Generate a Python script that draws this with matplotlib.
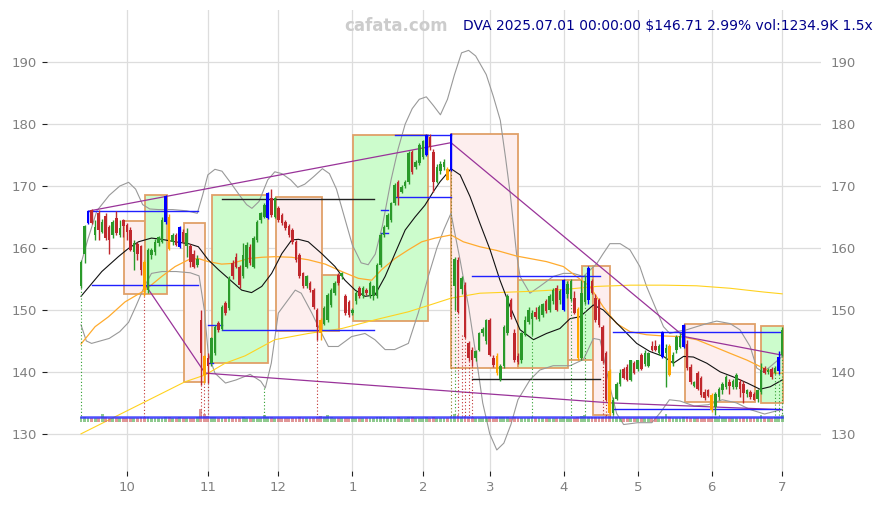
import numpy as np
import matplotlib.pyplot as plt
from matplotlib.patches import Rectangle

# daily candles, index 0 = 2024-09-12 (trading days)
opens = [
    153.8, 159.1, 164.0, 166.1, 162.1, 165.6, 162.6, 165.2, 163.4, 162.1,
    164.8, 162.1, 164.5, 163.7, 162.9, 159.4, 160.6, 160.3, 157.8, 153.2,
    158.9, 159.4, 160.8, 161.0, 164.2, 165.0, 161.0, 162.1, 160.2, 162.6,
    160.4, 160.4, 159.1, 157.3, 148.4, 142.5, 142.2, 141.4, 143.0, 147.9,
    147.0, 151.1, 150.3, 157.5, 158.6, 157.0, 155.4, 157.0, 160.2, 157.0,
    161.3, 164.5, 165.0, 164.8, 168.0, 165.0, 166.4, 165.3, 164.2, 163.5,
    162.9, 161.0, 158.9, 155.9, 153.8, 154.3, 153.2, 150.0, 148.4, 147.8,
    148.4, 150.8, 152.7, 155.6, 155.4, 152.2, 151.3, 149.5, 151.4, 153.5,
    152.2, 153.2, 152.2, 152.2, 152.2, 157.3, 162.1, 163.4, 164.5, 167.2,
    170.7, 169.1, 170.0, 170.7, 175.5, 173.1, 173.7, 174.7, 175.0, 177.9,
    175.5, 170.7, 172.5, 173.0, 172.8, 172.6, 153.8, 158.1, 153.4, 154.0,
    144.6, 143.5, 142.2, 143.5, 146.2, 145.0, 148.4, 142.2, 142.5, 138.9,
    140.9, 146.2, 151.6, 146.2, 142.5, 141.9, 146.0, 148.0, 148.5, 149.6,
    148.6, 149.2, 151.4, 150.0, 151.5, 153.6, 151.6, 150.0, 152.5, 151.8,
    152.0, 150.2, 142.2, 151.3, 151.6, 154.6, 152.0, 151.6, 147.3, 143.0,
    140.2, 133.3, 135.6, 138.0, 140.4, 140.8, 138.7, 141.4, 140.5, 142.7,
    141.3, 141.0, 144.1, 144.1, 143.0, 142.4, 143.0, 144.1, 141.4, 143.5,
    144.0, 144.0, 144.5, 140.8, 137.8, 139.9, 139.0, 136.8, 137.0, 136.2,
    134.4, 136.0, 137.0, 137.6, 138.4, 137.5, 137.6, 138.4, 138.0, 136.4,
    136.8, 136.5, 135.6, 136.8, 140.6, 140.0, 140.4, 139.9, 140.1, 142.7,
]
highs = [
    158.1, 163.7, 166.1, 166.3, 164.5, 166.1, 164.6, 165.6, 163.7, 164.5,
    165.9, 164.5, 164.6, 164.0, 163.4, 161.3, 160.9, 160.5, 158.1, 160.0,
    160.0, 161.5, 162.0, 165.0, 168.5, 165.5, 162.4, 162.5, 163.6, 163.0,
    163.2, 160.6, 159.6, 158.8, 150.0, 142.8, 143.0, 145.7, 147.6, 148.2,
    150.8, 151.5, 155.4, 158.0, 159.2, 157.3, 160.8, 161.0, 160.6, 162.0,
    164.5, 165.8, 167.2, 169.0, 169.6, 168.3, 166.7, 165.6, 164.5, 163.8,
    163.2, 161.3, 159.2, 156.2, 155.7, 154.6, 153.5, 150.3, 148.7, 150.6,
    152.7, 153.5, 154.6, 155.9, 156.2, 152.5, 151.6, 150.3, 153.0, 153.8,
    153.8, 153.5, 154.6, 154.1, 157.6, 162.4, 163.7, 165.6, 167.5, 170.5,
    171.0, 170.2, 171.0, 175.6, 175.8, 174.2, 176.9, 177.5, 178.4, 178.4,
    176.0, 173.5, 174.0, 174.3, 173.0, 178.6, 158.6, 158.5, 155.5, 154.5,
    145.0, 144.0, 143.6, 146.5, 147.3, 148.6, 148.7, 142.8, 143.0, 141.2,
    147.6, 152.6, 152.0, 147.0, 143.0, 146.5, 149.0, 150.5, 150.0, 150.5,
    150.8, 151.2, 151.8, 152.6, 153.5, 154.0, 153.4, 155.0, 154.6, 155.0,
    153.0, 150.5, 154.8, 155.6, 157.1, 155.0, 152.5, 152.0, 147.6, 143.3,
    140.5, 136.0, 138.3, 140.5, 140.8, 141.2, 142.0, 141.8, 142.0, 143.0,
    143.5, 143.2, 145.0, 145.2, 144.5, 146.6, 144.5, 144.5, 143.2, 146.0,
    146.2, 147.7, 145.2, 141.2, 138.6, 140.2, 139.3, 137.2, 137.3, 136.6,
    136.7, 137.6, 138.3, 139.5, 138.8, 138.8, 139.8, 138.8, 138.5, 137.2,
    137.0, 136.7, 137.3, 141.5, 141.0, 140.6, 140.8, 141.0, 143.3, 147.2,
]
lows = [
    153.6, 157.5, 163.8, 163.8, 161.3, 161.3, 162.4, 161.3, 159.1, 161.6,
    162.1, 161.8, 161.8, 161.3, 159.5, 156.5, 158.0, 155.6, 152.3, 152.8,
    158.3, 158.8, 160.3, 160.8, 163.9, 159.6, 160.5, 160.3, 160.0, 160.8,
    158.5, 156.9, 156.8, 157.0, 137.9, 138.2, 138.2, 141.0, 142.8, 146.5,
    146.8, 149.2, 150.0, 155.0, 156.7, 153.6, 155.1, 156.8, 157.2, 156.8,
    161.0, 164.0, 164.8, 164.6, 165.0, 164.8, 164.2, 163.7, 162.9, 161.8,
    160.7, 157.8, 155.1, 153.5, 153.5, 152.9, 150.2, 145.2, 145.2, 147.5,
    148.0, 150.5, 152.4, 154.0, 155.0, 149.2, 148.9, 149.2, 151.0, 151.9,
    151.9, 152.4, 151.9, 151.6, 151.9, 157.0, 161.8, 163.1, 164.2, 166.9,
    166.9, 168.8, 169.7, 170.4, 172.0, 172.8, 173.4, 174.4, 174.8, 175.8,
    169.1, 170.5, 172.0, 172.6, 170.9, 172.4, 150.0, 149.5, 152.5, 145.5,
    141.8, 141.0, 141.8, 143.3, 145.8, 144.5, 142.5, 140.8, 139.5, 138.6,
    140.6, 146.0, 148.5, 141.6, 141.2, 141.5, 145.8, 147.8, 146.0, 148.5,
    148.2, 148.8, 149.5, 149.6, 151.0, 149.8, 151.0, 149.8, 152.0, 151.5,
    149.3, 142.0, 142.0, 151.0, 151.0, 152.5, 148.0, 147.3, 141.5, 135.3,
    133.0, 133.0, 135.4, 137.8, 138.8, 138.5, 138.5, 139.6, 140.2, 140.3,
    141.0, 140.8, 143.3, 143.4, 142.8, 142.2, 137.5, 139.3, 141.0, 143.0,
    143.8, 143.8, 140.3, 138.0, 137.5, 137.0, 135.9, 135.5, 135.9, 133.5,
    133.0, 135.5, 136.5, 137.3, 136.5, 137.2, 137.3, 136.0, 135.0, 136.0,
    135.6, 135.4, 135.2, 136.5, 139.6, 139.6, 138.8, 139.6, 139.6, 142.5,
]
closes = [
    157.8, 163.5, 166.0, 164.0, 163.4, 162.9, 164.2, 161.6, 161.3, 164.2,
    162.4, 163.3, 163.5, 162.6, 159.7, 160.8, 159.0, 156.5, 153.2, 159.7,
    159.7, 161.0, 161.8, 164.5, 168.4, 159.9, 162.1, 160.5, 163.4, 161.0,
    162.4, 157.8, 157.0, 158.3, 143.0, 139.5, 140.9, 145.4, 147.3, 146.8,
    150.5, 149.5, 155.1, 155.4, 157.0, 154.0, 158.9, 160.5, 157.5, 161.6,
    164.2, 165.6, 166.9, 168.8, 165.3, 168.0, 164.5, 164.0, 163.2, 162.1,
    161.0, 158.1, 155.4, 153.8, 155.4, 153.2, 150.5, 147.3, 146.2, 150.3,
    152.4, 153.2, 154.3, 154.3, 155.9, 149.5, 149.2, 150.0, 152.7, 152.2,
    153.5, 152.7, 154.3, 153.8, 157.3, 162.1, 163.4, 165.3, 167.2, 170.2,
    168.3, 169.9, 170.7, 175.3, 172.3, 173.9, 176.6, 177.2, 178.2, 176.3,
    170.7, 173.0, 173.5, 173.9, 171.0, 178.4, 158.3, 149.7, 155.1, 145.7,
    142.2, 141.9, 143.3, 146.2, 147.0, 148.4, 142.7, 141.1, 139.8, 140.9,
    147.3, 152.2, 148.8, 141.9, 141.6, 146.2, 148.4, 150.0, 149.5, 148.8,
    150.5, 150.9, 149.9, 152.3, 153.2, 150.0, 153.0, 154.8, 154.2, 154.6,
    149.5, 142.2, 152.7, 154.6, 156.8, 152.8, 148.4, 147.6, 141.8, 135.5,
    133.3, 135.4, 138.0, 139.8, 139.0, 138.7, 141.9, 139.8, 141.9, 140.5,
    143.0, 143.0, 143.5, 143.6, 144.1, 146.4, 143.8, 139.5, 142.8, 145.6,
    145.8, 147.5, 140.6, 138.4, 138.3, 137.3, 136.2, 135.8, 136.1, 133.9,
    136.5, 137.3, 138.1, 139.2, 137.8, 138.5, 139.5, 137.2, 136.6, 137.0,
    136.0, 135.5, 137.0, 140.3, 139.8, 140.3, 139.2, 140.6, 142.4, 146.7,
]
volumes = [
    900, 820, 760, 700, 720, 760, 1500, 800, 760, 720,
    700, 760, 740, 700, 720, 760, 780, 800, 900, 820,
    760, 700, 720, 700, 800, 900, 760, 700, 800, 720,
    700, 760, 780, 800, 2300, 1500, 1100, 900, 820, 760,
    760, 700, 800, 760, 720, 760, 800, 720, 700, 760,
    720, 740, 1200, 900, 820, 760, 720, 700, 700, 720,
    740, 760, 800, 780, 720, 700, 760, 900, 1000, 880,
    1300, 820, 760, 700, 700, 760, 780, 720, 720, 700,
    700, 720, 700, 720, 820, 900, 800, 760, 720, 760,
    800, 720, 700, 860, 800, 720, 760, 780, 820, 760,
    820, 720, 700, 700, 720, 1100, 1400, 1200, 900, 1000,
    900, 820, 760, 760, 720, 760, 800, 760, 900, 800,
    820, 860, 760, 800, 760, 760, 720, 720, 800, 720,
    700, 720, 700, 720, 720, 760, 700, 800, 720, 760,
    760, 900, 1000, 1300, 900, 800, 820, 800, 900, 1000,
    1100, 900, 820, 760, 720, 720, 760, 720, 700, 700,
    720, 700, 720, 700, 720, 860, 1400, 800, 760, 720,
    720, 860, 800, 760, 720, 720, 760, 720, 700, 900,
    800, 760, 720, 700, 720, 700, 700, 760, 760, 720,
    720, 700, 720, 1300, 760, 720, 720, 800, 900, 1235,
]
blue_idx = [2, 24, 28, 53, 98, 105, 137, 144, 165, 171, 198]
orange_idx = [18, 25, 35, 68, 104, 118, 141, 150, 167, 179]

# month ticks
month_idx = [13, 36, 56, 77, 97, 116, 137, 158, 179, 199]
month_lbl = ['10', '11', '12', '1', '2', '3', '4', '5', '6', '7']

# indicator lines: (index, price)
ma_black = [(0, 152.2), (5.9, 156.2), (10.6, 158.6), (13.4, 159.9), (16.3, 161.0), (20, 161.6),
            (22.9, 161.4), (26.7, 161.0), (30.5, 160.7), (33.3, 160.2), (36.1, 158.1), (39, 156.5),
            (42.8, 154.6), (45.6, 153.2), (48.4, 152.8), (51.3, 153.8), (54.1, 155.9), (57, 159.1),
            (59.8, 161.3), (61.7, 161.4), (64.5, 161.0), (68.3, 159.1), (72.1, 157.0), (74.9, 154.8),
            (77.8, 153.2), (80.6, 152.2), (83.4, 152.4), (86.3, 155.4), (89.1, 159.1), (92, 162.9),
            (94.8, 165.0), (97.6, 166.9), (100, 169.1), (101.9, 170.7), (105, 172.8), (107.6, 171.8),
            (110.4, 168.3), (113.2, 164.0), (116.1, 159.7), (118.9, 154.8), (121.8, 150.5),
            (124.6, 146.8), (128.4, 145.2), (132.1, 146.2), (135.9, 147.0), (138.8, 148.6),
            (141.6, 148.9), (145.4, 150.8), (148.2, 150.0), (151.1, 148.4), (153.9, 146.8),
            (157.7, 144.6), (161.4, 143.3), (165.3, 142.5), (168.1, 141.4), (171, 142.5),
            (173.8, 142.4), (177.6, 141.4), (181.4, 140.0), (185.1, 139.2), (189.1, 138.2),
            (192.7, 137.2), (195.6, 137.6), (199, 138.7)]
band_up = [(0, 157.5), (2, 161.5), (4.5, 166.0), (8, 168.5), (11, 170.0), (13.5, 170.6), (15.5, 169.5),
           (17.5, 167.0), (19.5, 166.3), (22, 166.2), (26, 166.2), (30, 166.0), (33, 165.6),
           (34.5, 168.5), (36, 171.8), (38, 172.7), (40, 172.4), (42.5, 170.5), (45, 168.5),
           (47, 167.0), (48.5, 166.4), (50.5, 167.5), (53, 171.0), (55, 172.3), (57, 172.0),
           (59.5, 171.0), (61.5, 169.8), (63.5, 170.3), (66, 171.5), (68.5, 172.8), (70.5, 172.0),
           (72.5, 169.5), (75, 164.5), (77, 160.5), (79.5, 157.6), (81.5, 157.3), (83.5, 159.0),
           (85.5, 163.5), (88, 171.0), (90, 176.0), (92, 180.0), (94, 182.5), (96, 184.0),
           (98, 184.4), (100, 183.0), (102, 181.5), (104, 184.0), (106, 188.0), (108, 191.5),
           (110, 191.9), (112, 191.0), (115, 188.0), (117, 184.5), (119, 180.6), (120.5, 174.5),
           (121.8, 168.8), (123.6, 159.1), (124.6, 155.4), (127.4, 152.7), (130.2, 153.8),
           (134, 155.4), (136.9, 155.9), (139.7, 155.9), (142.6, 155.4), (146.4, 157.5),
           (148.2, 159.1), (150.1, 160.7), (153, 160.7), (155.8, 159.7), (158.6, 157.0),
           (160.5, 153.8), (163.3, 150.0), (165.3, 147.3), (167.1, 146.2), (169, 146.5),
           (171.9, 146.8), (174.7, 147.3), (177.6, 147.8), (180.4, 148.2), (184.2, 147.8),
           (187, 146.8), (189.9, 144.1), (191.8, 140.6), (193.6, 140.0), (195.5, 140.8),
           (198.4, 142.2), (199, 142.5)]
band_dn = [(0, 147.6), (1.5, 145.0), (3, 144.6), (5.5, 145.0), (8, 145.4), (11, 146.5), (13.5, 148.0),
           (15.5, 150.5), (18, 153.8), (20, 155.9), (23, 156.2), (27, 156.2), (31, 156.0),
           (33.5, 155.5), (35, 150.0), (36.1, 143.0), (38, 139.8), (41, 138.2), (44, 138.7),
           (48, 139.6), (51, 138.5), (52.3, 137.4), (54, 141.4), (56, 149.5), (60.8, 153.2),
           (62.5, 152.7), (65.5, 149.5), (68.3, 146.2), (70.2, 144.1), (73, 144.1), (76.8, 145.7),
           (80.6, 146.2), (83.4, 145.2), (86.3, 143.6), (89, 143.6), (92.9, 144.6), (95.7, 149.5),
           (98.6, 155.5), (101, 160.0), (103, 163.0), (105, 165.6), (107.6, 158.0), (110, 150.5),
           (112, 143.0), (114, 135.0), (116, 130.0), (118, 127.4), (120, 128.5), (122, 131.5),
           (124, 135.5), (127.4, 138.7), (130.2, 140.3), (134, 141.0), (138.8, 141.0),
           (142.6, 142.0), (145.4, 145.4), (147.3, 145.2), (150.1, 137.6), (152, 133.3),
           (154, 131.5), (158, 131.8), (162, 131.8), (164.5, 133.5), (167, 135.5), (170, 135.3),
           (174, 134.5), (178, 134.7), (182, 135.5), (186, 135.0), (190, 133.9), (194, 133.2),
           (198, 133.8), (199, 134.0)]
ma_orange = [(0, 144.5), (4, 147.3), (7.8, 148.9), (12.5, 151.3), (18.2, 153.2), (22.9, 155.4),
             (26.7, 157.0), (30.5, 158.1), (33.3, 158.3), (36.1, 157.8), (39.9, 157.4),
             (42.8, 157.5), (47.5, 158.3), (51.3, 158.5), (55.1, 158.6), (59.8, 158.5),
             (64.5, 158.1), (69.3, 157.4), (74, 156.2), (78.7, 155.1), (82.5, 154.8),
             (85.3, 156.5), (89.1, 158.3), (92.9, 159.7), (96.7, 161.0), (100.5, 161.6),
             (105, 162.1), (108.5, 161.0), (113.2, 160.2), (118, 159.6), (123.6, 158.7),
             (127.4, 158.3), (132.1, 157.8), (136.9, 157.0), (140.6, 155.4), (144.4, 153.8),
             (148.2, 150.5), (152, 147.8), (155.8, 146.5), (160.5, 146.0), (165.3, 145.8),
             (170, 145.7), (174.7, 145.2), (179.5, 144.1), (184.2, 143.0), (189, 141.9),
             (193.7, 140.6), (196.6, 139.8), (199, 139.8)]
ma_yellow = [(0, 130.0), (29.5, 138.4), (35.2, 139.5), (40.9, 141.4), (46.6, 142.6), (55, 145.2),
             (64.5, 146.2), (74, 147.0), (83.4, 148.4), (92.9, 149.7), (99, 150.8), (105, 151.9),
             (113.2, 152.7), (127.4, 153.0), (137, 153.3), (146.4, 153.8), (156, 154.0),
             (165.3, 154.0), (174.7, 153.9), (184.2, 153.5), (193.6, 152.9), (199, 152.6)]

# trend lines (pivot to pivot)
trend_top = [(2.5, 166.0), (105, 177.0), (171.2, 145.7), (199, 142.7)]
trend_bot = [(18.2, 154.1), (35.2, 139.8), (150.2, 135.0), (199, 133.9)]

# boxes: start, end, low, high, up?
box_i0 = [12.3, 18.2, 29.3, 37.2, 55.2, 68.3, 77.3, 105.0, 124.1, 138.3, 142.3, 145.2, 171.3, 193.0]
box_i1 = [18.2, 24.4, 35.3, 53.2, 68.3, 73.3, 98.4, 124.1, 138.3, 142.3, 145.2, 150.2, 191.2, 199.1]
box_lo = [152.5, 152.5, 138.4, 141.4, 146.6, 146.6, 148.2, 140.6, 140.6, 141.9, 141.9, 133.1, 135.2, 135.0]
box_hi = [164.4, 168.5, 164.1, 168.6, 168.2, 155.7, 178.2, 178.4, 154.9, 154.9, 157.1, 157.1, 147.7, 147.4]
box_up = [0, 1, 0, 1, 0, 1, 1, 0, 1, 0, 1, 0, 0, 1]

# level lines: start, end, price, colour
lvl_i0 = [2.1, 3.0, 40.0, 40.0, 36.0, 36.0, 85.0, 85.0, 89.0, 89.0, 110.9, 110.9, 151.1, 151.1]
lvl_i1 = [33.3, 33.3, 83.2, 83.2, 40.0, 37.5, 87.0, 87.0, 105.0, 105.0, 147.3, 147.3, 198.4, 198.4]
lvl_p = [166.0, 154.1, 167.9, 146.8, 147.5, 141.4, 166.2, 162.4, 178.3, 168.3, 155.5, 138.8, 146.4, 134.0]
lvl_c = ['b', 'b', 'k', 'b', 'b', 'b', 'b', 'b', 'b', 'b', 'b', 'k', 'b', 'b']

# dotted markers: index, top price, colour
mark_i = [0, 18, 34, 35, 36, 52, 67, 105, 106, 107, 108, 109, 110, 111, 128, 139, 143, 148, 149, 150, 151, 181, 197, 198, 199]
mark_p = [153.6, 152.3, 137.9, 138.2, 138.2, 137.4, 145.2, 172.4, 150.0, 149.5, 146.0, 145.5, 141.8, 141.0, 146.0, 151.5, 151.0, 141.5, 135.3, 133.0, 133.0, 133.0, 139.6, 139.6, 142.5]
mark_c = ['g', 'r', 'r', 'r', 'r', 'g', 'r', 'o', 'g', 'r', 'r', 'r', 'r', 'r', 'g', 'g', 'g', 'r', 'r', 'r', 'g', 'g', 'g', 'g', 'g']

GREEN = '#2a9a2a'
RED = '#c0282d'
col = {'g': '#2e9e2e', 'r': '#c03030', 'o': '#8a7a20', 'b': '#2020ff', 'k': '#222222'}

fig = plt.figure(figsize=(8.82, 5.05), dpi=100)
ax = fig.add_axes([0.0533, 0.0673, 0.8775, 0.9127])
ax.set_xlim(-9.65, 210.0)
ax.set_ylim(124.0, 198.4)
for s in ax.spines.values():
    s.set_visible(False)
ax.set_axisbelow(True)
ax.grid(True, color='#dddddd', lw=0.9)

# boxes
for a, b, lo, hi, up in zip(box_i0, box_i1, box_lo, box_hi, box_up):
    fc = '#ccfccc' if up else '#fdeeee'
    ax.add_patch(Rectangle((a, lo), b - a, hi - lo, facecolor=fc, edgecolor='#e0a068',
                           lw=1.3, zorder=1))

# indicator lines
def draw(pts, **kw):
    xs, ys = zip(*pts)
    ax.plot(xs, ys, **kw)

draw(band_up, color='#999999', lw=0.8, zorder=2)
draw(band_dn, color='#999999', lw=0.8, zorder=2)
draw(ma_yellow, color='#ffd21f', lw=0.8, zorder=2)
draw(ma_orange, color='#ffab2e', lw=0.9, zorder=2)
draw(ma_black, color='#111111', lw=0.8, zorder=2)
draw(trend_top, color='#993399', lw=0.9, zorder=2)
draw(trend_bot, color='#993399', lw=0.9, zorder=2)

for a, b, p, c in zip(lvl_i0, lvl_i1, lvl_p, lvl_c):
    ax.plot([a, b], [p, p], color=col[c], lw=1.0, zorder=2)

# dotted markers down to the volume strip
for i, p, c in zip(mark_i, mark_p, mark_c):
    ax.plot([i, i], [p, 132.7], color=col[c], lw=0.8, ls=(0, (1, 2)), zorder=2)

# volume strip
idx = np.arange(len(closes))
vol = np.array(volumes, dtype=float)
up = np.array(closes) >= np.array(opens)
vcol = np.where(up, '#5fb35f', '#d46a6a')
ax.bar(idx, vol / 800 * 0.7, bottom=131.95, width=0.8, color=vcol, alpha=0.7, zorder=2)
ax.plot([0, 199], [132.75, 132.75], color='#3030ff', lw=1.8, alpha=0.85, zorder=3)

# candles
ccol = np.where(up, GREEN, RED).astype(object)
for i in blue_idx:
    ccol[i] = '#0000ff'
for i in orange_idx:
    ccol[i] = '#ffa500'
o = np.array(opens)
c = np.array(closes)
ax.vlines(idx, lows, highs, colors=ccol, lw=1.0, zorder=4)
body_lo = np.minimum(o, c)
body_h = np.maximum(np.abs(c - o), 0.15)
ax.bar(idx, body_h, bottom=body_lo, width=0.72, color=ccol, zorder=4)

# ticks
ax.set_xticks(month_idx)
ax.set_xticklabels(month_lbl)
ax.set_yticks(range(130, 200, 10))
ax.tick_params(axis='both', colors='#222222', labelcolor='#808080', labelsize=9.5, length=3.5)
ax.tick_params(axis='y', right=True, labelright=True)
for t in ax.yaxis.get_major_ticks():
    t.tick2line.set_visible(False)

fig.text(0.449, 0.9485, 'cafata.com', color='#cccccc', fontsize=12, fontweight='bold',
         ha='center', va='center')
fig.text(0.525, 0.9485, 'DVA 2025.07.01 00:00:00 $146.71 2.99% vol:1234.9K 1.5x',
         color='#00008b', fontsize=10, ha='left', va='center')

fig.savefig('out.png', dpi=100)
